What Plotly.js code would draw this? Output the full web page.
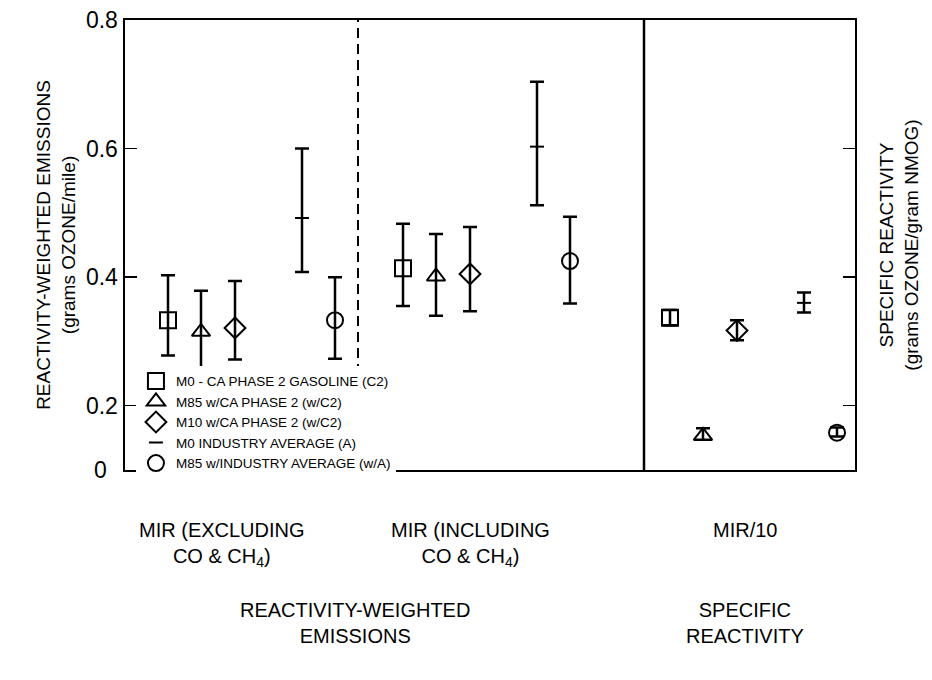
<!DOCTYPE html>
<html>
<head>
<meta charset="utf-8">
<script src="https://cdn.plot.ly/plotly-3.0.1.min.js"></script>
<style>html,body{margin:0;padding:0;background:#fff;}#chart{width:932px;height:680px;}</style>
</head>
<body>
<div id="chart"></div>
<script>
// ---- data ----
const categories = ['MIR (EXCLUDING CO & CH4)', 'MIR (INCLUDING CO & CH4)', 'MIR/10'];
const seriesNames = [
  'M0 - CA PHASE 2 GASOLINE (C2)',
  'M85 w/CA PHASE 2 (w/C2)',
  'M10 w/CA PHASE 2 (w/C2)',
  'M0 INDUSTRY AVERAGE (A)',
  'M85 w/INDUSTRY AVERAGE (w/A)'
];
const m0C2Mean   = [0.333, 0.414, 0.337];
const m0C2High   = [0.403, 0.483, 0.349];
const m0C2Low    = [0.278, 0.355, 0.325];
const m85C2Mean  = [0.315, 0.401, 0.153];
const m85C2High  = [0.379, 0.467, 0.165];
const m85C2Low   = [0.259, 0.340, 0.147];
const m10C2Mean  = [0.321, 0.405, 0.317];
const m10C2High  = [0.394, 0.478, 0.333];
const m10C2Low   = [0.272, 0.347, 0.302];
const m0IAMean   = [0.492, 0.603, 0.360];
const m0IAHigh   = [0.600, 0.704, 0.376];
const m0IALow    = [0.408, 0.512, 0.345];
const m85IAMean  = [0.333, 0.425, 0.158];
const m85IAHigh  = [0.400, 0.494, 0.166];
const m85IALow   = [0.273, 0.359, 0.152];
const yTicks = [0.2, 0.4, 0.6, 0.8];
const yTickText = ['0.2', '0.4', '0.6', '0.8'];
const yBottomLabel = '0';

// ---- layout constants (positions / styles) ----
const groupStart = [43, 278, 545];          // x-units of first point in each group
const seriesOffset = [0, 33, 67, 134, 167]; // offsets of each series in a group
const symbols = ['square-open', 'triangle-up-open', 'diamond-open', 'line-ew-open', 'circle-open'];
const FONT = "'Liberation Sans', Arial, sans-serif";

const means = [m0C2Mean, m85C2Mean, m10C2Mean, m0IAMean, m85IAMean];
const highs = [m0C2High, m85C2High, m10C2High, m0IAHigh, m85IAHigh];
const lows  = [m0C2Low, m85C2Low, m10C2Low, m0IALow, m85IALow];

const traces = [];
seriesNames.forEach((name, s) => {
  const mk = {symbol: symbols[s], size: s === 3 ? 10 : 16, color: 'black', line: {color: 'black', width: 2}};
  const errFor = idx => ({
    type: 'data', symmetric: false,
    array: idx.map(i => highs[s][i] - means[s][i]),
    arrayminus: idx.map(i => means[s][i] - lows[s][i]),
    color: 'black', thickness: 2.5, width: 7
  });
  const idxA = [0, 1];
  traces.push({
    type: 'scatter', mode: 'markers', name: name, legendgroup: 'g' + s,
    x: idxA.map(i => groupStart[i] + seriesOffset[s]),
    y: idxA.map(i => means[s][i]),
    error_y: errFor(idxA), marker: mk, xaxis: 'x', yaxis: 'y', hoverinfo: 'skip'
  });
  const idxB = [2];
  traces.push({
    type: 'scatter', mode: 'markers', name: name, legendgroup: 'g' + s, showlegend: false,
    x: idxB.map(i => groupStart[i] + seriesOffset[s]),
    y: idxB.map(i => means[s][i]),
    error_y: errFor(idxB), marker: mk, xaxis: 'x', yaxis: 'y2', hoverinfo: 'skip'
  });
});

const yRange = [0.1, 0.8];

const layout = {
  width: 932, height: 680,
  margin: {l: 125, r: 77, t: 20, b: 210},
  paper_bgcolor: 'white', plot_bgcolor: 'white',
  font: {family: FONT, color: 'black', size: 18},
  showlegend: true,
  legend: {
    x: 0.015, y: 0.232, xanchor: 'left', yanchor: 'top',
    bgcolor: 'white', borderwidth: 0,
    font: {family: FONT, size: 13.5, color: 'black'},
    itemwidth: 30, tracegroupgap: 0
  },
  xaxis: {
    range: [0, 730], showgrid: false, zeroline: false, showticklabels: false, ticks: '',
    showline: true, mirror: true, linecolor: 'black', linewidth: 2, fixedrange: true
  },
  yaxis: {
    range: yRange, tickvals: yTicks, ticktext: yTickText,
    ticks: 'inside', ticklen: 12, tickwidth: 1.5, tickcolor: 'black',
    showgrid: false, zeroline: false, showline: true, linecolor: 'black', linewidth: 2.5,
    tickfont: {family: FONT, size: 23},
    title: {text: 'REACTIVITY-WEIGHTED EMISSIONS<br>(grams OZONE/mile)', font: {family: FONT, size: 19}, standoff: 6},
    fixedrange: true
  },
  yaxis2: {
    overlaying: 'y', side: 'right', range: yRange, tickvals: [0.2, 0.4, 0.6],
    ticks: 'inside', ticklen: 12, tickwidth: 1.5, tickcolor: 'black', showticklabels: false,
    showgrid: false, zeroline: false, showline: true, linecolor: 'black', linewidth: 2,
    title: {text: 'SPECIFIC REACTIVITY<br>(grams OZONE/gram NMOG)', font: {family: FONT, size: 19}, standoff: 24},
    fixedrange: true
  },
  shapes: [
    {type: 'line', xref: 'x', yref: 'paper', x0: 233, x1: 233, y0: 0, y1: 1,
     line: {color: 'black', width: 2, dash: '10px,6px'}, layer: 'below'},
    {type: 'line', xref: 'x', yref: 'paper', x0: 519, x1: 519, y0: 0, y1: 1,
     line: {color: 'black', width: 2.5}}
  ],
  annotations: [
    {text: yBottomLabel, x: 0, y: 0, xref: 'paper', yref: 'paper', xanchor: 'right', yanchor: 'middle',
     xshift: -16, showarrow: false, font: {family: FONT, size: 23}},
    {text: 'MIR (EXCLUDING<br>CO &amp; CH<sub>4</sub>)', x: 97, y: -0.105, xref: 'x', yref: 'paper',
     xanchor: 'center', yanchor: 'top', showarrow: false, font: {family: FONT, size: 20}},
    {text: 'MIR (INCLUDING<br>CO &amp; CH<sub>4</sub>)', x: 345, y: -0.105, xref: 'x', yref: 'paper',
     xanchor: 'center', yanchor: 'top', showarrow: false, font: {family: FONT, size: 20}},
    {text: 'MIR/10', x: 620, y: -0.105, xref: 'x', yref: 'paper',
     xanchor: 'center', yanchor: 'top', showarrow: false, font: {family: FONT, size: 20}},
    {text: 'REACTIVITY-WEIGHTED<br>EMISSIONS', x: 230, y: -0.283, xref: 'x', yref: 'paper',
     xanchor: 'center', yanchor: 'top', showarrow: false, font: {family: FONT, size: 20}},
    {text: 'SPECIFIC<br>REACTIVITY', x: 620, y: -0.283, xref: 'x', yref: 'paper',
     xanchor: 'center', yanchor: 'top', showarrow: false, font: {family: FONT, size: 20}}
  ]
};

Plotly.newPlot('chart', traces, layout, {displayModeBar: false, staticPlot: true});
</script>
</body>
</html>
